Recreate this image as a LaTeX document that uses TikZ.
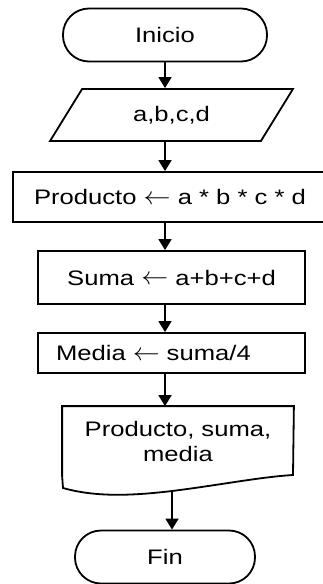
\documentclass[tikz,border=0pt]{standalone}
\usepackage{fontspec}
\setmainfont{Liberation Sans}[FakeStretch=1.22]
\newcommand{\larr}{\raisebox{0.5pt}{\scalebox{1.3}[1.2]{\(\leftarrow\)}}}
\usetikzlibrary{arrows.meta,shapes.geometric}
\begin{document}
\begin{tikzpicture}[x=1pt,y=-1pt,
  line width=1.8pt,
  font=\fontsize{21}{25}\selectfont,
  term/.style={draw,rectangle,rounded corners=26pt,minimum height=53pt,inner sep=0pt},
  procbox/.style={draw,rectangle,inner sep=0pt},
  databox/.style={draw,trapezium,trapezium left angle=52.4,trapezium right angle=127.6,
    trapezium stretches=true,minimum width=243pt,minimum height=52pt,inner sep=0pt},
  flow/.style={-{Triangle[width=13pt,length=11pt]},line width=1.8pt}]
\useasboundingbox (0,0) rectangle (322,584);
\fill[white] (0,0) rectangle (322,584);
\node[term,minimum width=204pt] (inicio) at (165,35) {Inicio};
\node[databox] (datos) at (171.5,115) {a,b,c,d};
\node[procbox,minimum width=312pt,minimum height=50pt] (prod) at (169,197) {\hspace*{2pt}Producto \larr\ a * b * c * d};
\node[procbox,minimum width=267pt,minimum height=53pt] (suma) at (171.5,277.5) {Suma \larr\ a+b+c+d};
\node[procbox,minimum height=40pt,text width=231pt,align=left,inner xsep=18pt,inner ysep=0pt] (media) at (171.5,353) {Media \larr\ suma/4};
\node[align=center,minimum width=230pt,minimum height=68pt,inner sep=0pt] (salida) at (178,441) {Producto, suma,\\media};
\draw (salida.south west) -- (salida.north west) -- (salida.north east) -- (293,475)
  .. controls (260,477) and (220,485) .. (172,491) coordinate (docbot)
  .. controls (130,496) and (95,497) .. (63,488) -- cycle;
\node[term,minimum width=180pt] (fin) at (165,557) {Fin};
\draw[flow] (inicio.south) -- (inicio.south |- datos.north);
\draw[flow] (165,141) coordinate (d1) -- (d1 |- prod.north);
\draw[flow] (165,222) coordinate (p1) -- (p1 |- suma.north);
\draw[flow] (165,304) coordinate (s1) -- (s1 |- media.north);
\draw[flow] (165,373) coordinate (m1) -- (m1 |- salida.north);
\draw[flow] (docbot) -- (docbot |- fin.north);
\end{tikzpicture}
\end{document}
